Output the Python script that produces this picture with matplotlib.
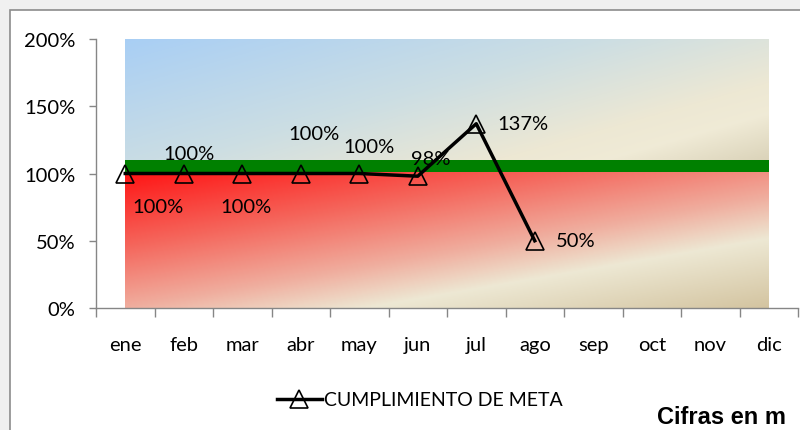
import numpy as np
import matplotlib
matplotlib.use('agg')
import matplotlib.pyplot as plt
from matplotlib.colors import LinearSegmentedColormap
from matplotlib.patches import Rectangle
from matplotlib.ticker import PercentFormatter

plt.rcParams['font.family'] = ['Lato', 'DejaVu Sans']

meses = ['ene', 'feb', 'mar', 'abr', 'may', 'jun', 'jul', 'ago', 'sep', 'oct', 'nov', 'dic']
cumplimiento = [1.00, 1.00, 1.00, 1.00, 1.00, 0.98, 1.37, 0.50]
serie = 'CUMPLIMIENTO DE META'
limite_rojo = 1.01
limite_verde = 1.10
limite_max = 2.0

# label offsets in pixels (dx, dy)
offsets = [(33, -33), (5, 20), (4, -33), (13, 40), (10, 27), (13, 18), (47, 0), (41, 0)]

rojo_stops = [(0.0, (1.0, 0.08, 0.08)), (0.3, (0.96, 0.40, 0.36)), (0.55, (0.94, 0.68, 0.62)),
              (0.72, (0.93, 0.91, 0.83)), (1.0, (0.83, 0.77, 0.63))]
azul_stops = [(0.0, (0.66, 0.81, 0.96)), (0.45, (0.80, 0.87, 0.89)), (0.75, (0.93, 0.91, 0.83)),
              (0.85, (0.94, 0.92, 0.84)), (1.0, (0.86, 0.83, 0.73))]


def gradiente(stops, a, b, w=400, h=150):
    xx, yy = np.meshgrid(np.linspace(0, 1, w), np.linspace(0, 1, h))
    s = a * xx + b * yy
    cmap = LinearSegmentedColormap.from_list('g', stops)
    return cmap(s)


fig = plt.figure(figsize=(8, 4.31), dpi=100, facecolor='#f0f0f0')
fig.patches.append(Rectangle((10/800, -0.1), 1.0, 1.1 - 11/431, transform=fig.transFigure,
                             facecolor='white', edgecolor='#8c8c8c', lw=1.2, zorder=-1))
ax = fig.add_axes([96/800, 122/431, 702/800, 269/431])
ax.set_zorder(2)
ax.set_facecolor('none')

n = len(meses)
x = np.arange(len(cumplimiento))

ax.imshow(gradiente(rojo_stops, 0.45, 0.55), extent=(0, n-1, 0, limite_rojo), origin='upper',
          aspect='auto', zorder=0, interpolation='bilinear')
ax.imshow(gradiente(azul_stops, 0.6, 0.4), extent=(0, n-1, limite_verde, limite_max), origin='upper',
          aspect='auto', zorder=0, interpolation='bilinear')
ax.fill_between([0, n-1], limite_rojo, limite_verde, color='#008000', lw=0, zorder=1)

ax.plot(x, cumplimiento, color='black', lw=2.5, marker='^', ms=13, mfc='none', mec='black',
        mew=1.2, label=serie, zorder=3)

for i, v in enumerate(cumplimiento):
    ax.annotate(f'{v:.0%}', (x[i], v), xytext=offsets[i], textcoords='offset pixels',
                ha='center', va='center', fontsize=14.5, zorder=4)

ax.set_xlim(-0.5, n - 0.5)
ax.set_ylim(0, limite_max)
ax.set_yticks(np.arange(0, 2.01, 0.5))
ax.yaxis.set_major_formatter(PercentFormatter(1.0, decimals=0))
ax.set_xticks(np.arange(-0.5, n, 1))
ax.set_xticklabels([])
ax.set_xticks(np.arange(n), minor=True)
ax.set_xticklabels(meses, minor=True)
ax.tick_params(axis='x', which='major', length=6.5, color='#868686', width=1)
ax.tick_params(axis='x', which='minor', length=0, pad=20, labelsize=14.5)
ax.tick_params(axis='y', length=5, pad=10, color='#868686', width=1, labelsize=14.5)
for s in ['top', 'right']:
    ax.spines[s].set_visible(False)
for s in ['left', 'bottom']:
    ax.spines[s].set_color('#868686')
    ax.spines[s].set_linewidth(1)

fig.legend(loc='center', bbox_to_anchor=(420/800, 1 - 401/431), frameon=False, fontsize=14,
           handlelength=2.3, handletextpad=0.15, numpoints=1)

fig.text(657/800, 1 - 418/431, 'Cifras en m', fontweight='bold', family='Liberation Sans',
         fontsize=17, va='center')

fig.savefig('out.png', dpi=100, facecolor=fig.get_facecolor())
